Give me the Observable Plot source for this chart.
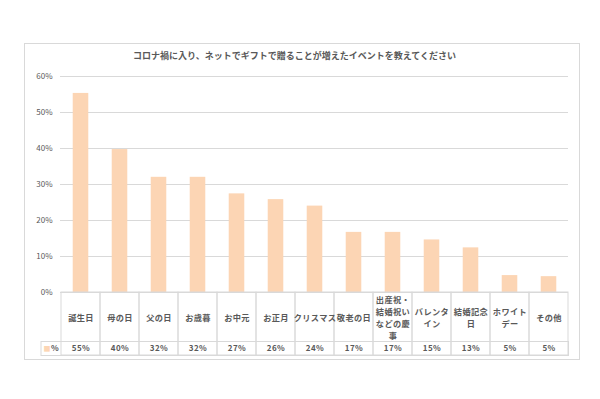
<!DOCTYPE html>
<html>
<head>
<meta charset="utf-8">
<script src="https://cdn.jsdelivr.net/npm/d3@7"></script>
<script src="https://cdn.jsdelivr.net/npm/@observablehq/plot@0.6"></script>
<style>
  html, body { margin: 0; padding: 0; background: #ffffff; }
  body { width: 600px; height: 399px; overflow: hidden; font-family: "Noto Sans CJK JP", "Noto Sans", sans-serif; }
</style>
</head>
<body>
<div id="chart"></div>
<script>
// ---- data ----
const title = "コロナ禍に入り、ネットでギフトで贈ることが増えたイベントを教えてください";
const categories = ["誕生日", "母の日", "父の日", "お歳暮", "お中元", "お正月", "クリスマス", "敬老の日", "出産祝・結婚祝いなどの慶事", "バレンタイン", "結婚記念日", "ホワイトデー", "その他"];
const categoryLabels = ["誕生日", "母の日", "父の日", "お歳暮", "お中元", "お正月", "クリスマス", "敬老の日", "出産祝・\n結婚祝い\nなどの慶\n事", "バレンタ\nイン", "結婚記念\n日", "ホワイト\nデー", "その他"];
const values = [55.3, 39.7, 32.0, 32.0, 27.4, 25.8, 24.0, 16.7, 16.7, 14.6, 12.4, 4.7, 4.4];
const valueLabels = ["55%", "40%", "32%", "32%", "27%", "26%", "24%", "17%", "17%", "15%", "13%", "5%", "5%"];
const seriesName = "%";
const yTicks = [0, 10, 20, 30, 40, 50, 60];

// ---- layout / style ----
const W = 600, H = 399;
const mTop = 76, mBottom = 107, mLeft = 60, mRight = 32;
const plotH = H - mTop - mBottom;
const labelRowH = 49, valueRowH = 14;
const barFill = "#fcd5b4";
const lineColor = "#d9d9d9";
const textColor = "#595959";
const colW = (W - mLeft - mRight) / categories.length;
const barInset = colW * 0.3;

const data = categories.map((c, i) => ({cat: c, label: categoryLabels[i], value: values[i], vlabel: valueLabels[i]}));

const chart = Plot.plot({
  width: W,
  height: H,
  marginTop: mTop,
  marginBottom: mBottom,
  marginLeft: mLeft,
  marginRight: mRight,
  style: {fontFamily: "'Noto Sans CJK JP', 'Noto Sans', sans-serif", fontSize: "8px", color: textColor, background: "#ffffff"},
  x: {domain: categories, padding: 0, axis: null},
  y: {domain: [0, 60], ticks: yTicks, tickFormat: d => d + "%", tickSize: 0, tickPadding: 8, label: null, grid: false},
  marks: [
    // outer chart frame
    Plot.frame({stroke: lineColor, insetLeft: -36, insetRight: -11, insetTop: -33, insetBottom: -67}),
    // gridlines
    Plot.ruleY(yTicks, {stroke: lineColor, strokeWidth: 1}),
    // bars
    Plot.barY(data, {x: "cat", y: "value", fill: barFill, insetLeft: barInset, insetRight: barInset}),
    // data table: column cells
    Plot.cell(data, {x: "cat", fill: "none", stroke: lineColor, insetTop: plotH, insetBottom: -(labelRowH + valueRowH)}),
    // data table: value row incl. legend key cell
    Plot.frame({stroke: lineColor, insetTop: plotH + labelRowH, insetBottom: -(labelRowH + valueRowH), insetLeft: -19.5}),
    // category labels
    Plot.text(data, {x: "cat", text: "label", frameAnchor: "bottom", lineAnchor: "middle", dy: labelRowH / 2 + 0.5, fontSize: 8.2, lineHeight: 1.45, fontWeight: 600, fill: textColor}),
    // value labels
    Plot.text(data, {x: "cat", text: "vlabel", frameAnchor: "bottom", lineAnchor: "middle", dy: labelRowH + valueRowH / 2, fontSize: 8, fontWeight: 600, fill: textColor}),
    // legend key
    Plot.text(["■"], {frameAnchor: "bottom-left", textAnchor: "start", lineAnchor: "middle", dx: -17, dy: labelRowH + valueRowH / 2, fontSize: 7, fill: barFill}),
    Plot.text([seriesName], {frameAnchor: "bottom-left", textAnchor: "start", lineAnchor: "middle", dx: -9.5, dy: labelRowH + valueRowH / 2, fontSize: 8, fontWeight: 600, fill: textColor}),
    // title
    Plot.text([title], {frameAnchor: "top", lineAnchor: "middle", dx: -20, dy: -20, fontSize: 9, fontWeight: "bold", fill: textColor})
  ]
});
// a little letter spacing on the table's text, like the original
chart.querySelectorAll("g[aria-label='text']").forEach((g, i) => { if (i < 2) g.style.letterSpacing = "0.4px"; });
document.getElementById("chart").appendChild(chart);
</script>
</body>
</html>
